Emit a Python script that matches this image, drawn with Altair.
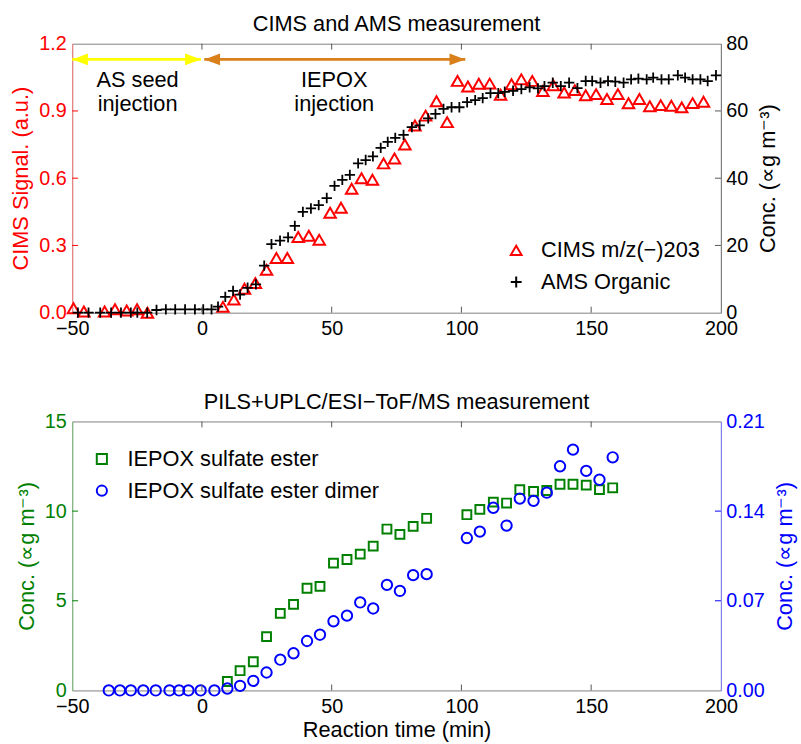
import altair as alt
import pandas as pd

FONT = "Liberation Sans"
W, H = 656, 272
RED = "#ff0000"
GREEN = "#008000"
BLUE = "#0000ff"
YEL = "#ffff00"
ORA = "#d9801a"
GREY = "#7f7f7f"

# ---------------- data ----------------
x_ticks = [-50, 0, 50, 100, 150, 200]

CIMS_LBL = "CIMS m/z(−)203"
AMS_LBL = "AMS Organic"
EST_LBL = "IEPOX sulfate ester"
DIM_LBL = "IEPOX sulfate ester dimer"
X_TITLE = "Reaction time (min)"

cims_t = [-49.5, -45.5, -37.5, -33.5, -29.0, -25.0, -21.0,
          8.1, 12.3, 16.4, 20.6, 24.9, 28.7, 32.9, 37.1, 41.2, 45.2,
          49.4, 53.6, 57.7, 61.5, 65.7, 70.0, 74.2, 78.2, 82.1, 86.2,
          90.4, 94.5, 98.5, 102.5, 106.7, 110.9, 115.1, 119.3, 123.1, 127.3,
          131.4, 135.4, 139.6, 143.7, 147.9, 151.9, 156.1, 160.3, 164.4, 168.6,
          172.6, 176.8, 180.9, 184.9, 189.1, 193.3]
cims_v = [0.02, 0.005, 0.005, 0.015, 0.01, 0.015, 0.0,
          0.026, 0.059, 0.107, 0.132, 0.191, 0.244, 0.244, 0.338, 0.343, 0.325,
          0.446, 0.468, 0.553, 0.600, 0.593, 0.666, 0.688, 0.750, 0.835, 0.879,
          0.943, 0.850, 1.034, 1.009, 1.021, 1.022, 0.972, 1.019, 1.041, 1.034,
          0.989, 1.015, 0.982, 0.993, 0.970, 0.975, 0.953, 0.975, 0.934, 0.953,
          0.921, 0.926, 0.923, 0.916, 0.935, 0.941]

ams_t = [-47.8, -43.7, -39.2, -35.0, -31.2, -27.4, -24.9, -21.1,
         -17.5, -13.9, -10.3, -6.5, -2.7, 0.5, 3.7, 6.2,
         9.0, 12.0, 14.7, 17.6, 20.8, 24.0, 26.8, 30.1, 33.2, 35.8,
         38.9, 42.0, 45.0, 48.1, 51.1, 54.1, 57.0, 60.2, 63.1, 65.9,
         68.9, 71.6, 74.5, 77.7, 80.9, 83.9, 87.2, 90.0, 93.1, 96.2,
         99.2, 102.2, 105.3, 108.2, 111.2, 114.2, 116.7, 119.9, 123.1, 126.3,
         129.5, 132.0, 135.2, 138.3, 141.5, 144.7, 147.9, 150.4, 153.6, 156.5,
         159.3, 162.5, 165.4, 168.2, 171.4, 173.9, 177.1, 179.9, 183.4, 186.2,
         189.1, 192.1, 194.9, 198.1]
ams_v = [0.0, 0.0, 0.0, 0.0, 0.0, 0.0, 0.0, 0.0,
         0.8, 1.0, 1.0, 1.0, 1.0, 1.0, 1.0, 1.8,
         4.7, 6.5, 5.4, 7.4, 8.4, 14.0, 20.4, 21.4, 22.4, 25.8,
         30.0, 31.0, 32.0, 34.1, 37.7, 39.5, 41.0, 44.4, 45.4, 46.5,
         49.0, 50.8, 52.0, 52.9, 55.2, 55.7, 57.8, 59.1, 60.6, 61.1,
         61.1, 62.6, 63.2, 63.8, 65.3, 65.3, 65.7, 66.0, 66.5, 67.0,
         66.7, 67.4, 68.4, 67.4, 68.4, 66.8, 68.9, 68.9, 68.4, 68.9,
         68.7, 68.4, 69.4, 69.6, 69.4, 69.9, 69.4, 69.4, 70.6, 69.9,
         69.4, 69.4, 68.9, 70.6]

ester_t = [9.8, 14.7, 19.8, 24.9, 30.2, 35.3, 40.5, 45.5, 50.7, 55.9,
           61.0, 66.0, 71.3, 76.3, 81.4, 86.6, 102.1, 107.1, 112.3, 117.4,
           122.5, 127.8, 132.9, 138.0, 143.0, 148.1, 153.2, 158.3]
ester_v = [0.5, 1.1, 1.6, 3.0, 4.3, 4.8, 5.7, 5.8, 7.1, 7.3,
           7.6, 8.05, 9.0, 8.7, 9.15, 9.6, 9.8, 10.1, 10.5, 10.45,
           11.2, 11.1, 11.15, 11.5, 11.5, 11.45, 11.2, 11.3]

dimer_t = [-35.9, -31.6, -27.4, -22.6, -17.8, -12.5, -8.8, -5.2, -0.5, 4.8,
           9.8, 14.7, 19.8, 24.9, 30.2, 35.3, 40.5, 45.5, 50.7, 55.9,
           61.0, 66.0, 71.3, 76.3, 81.4, 86.6, 102.1, 107.1, 112.3, 117.4,
           122.5, 127.8, 132.9, 138.0, 143.0, 148.1, 153.2, 158.3]
dimer_v = [0.0, 0.0, 0.0, 0.0, 0.0, 0.0, 0.0, 0.0, 0.0, 0.0,
           0.0015, 0.0036, 0.0075, 0.014, 0.024, 0.029, 0.0386, 0.0435, 0.054, 0.0584,
           0.0687, 0.064, 0.0824, 0.0777, 0.090, 0.0908, 0.119, 0.124, 0.1426, 0.1287,
           0.1498, 0.148, 0.1544, 0.175, 0.188, 0.1714, 0.1645, 0.182]

# annotation: injection periods (start, end in min)
phase_names = ["AS seed", "IEPOX"]
phase_start = [-50.0, 0.9]
phase_end = [-0.4, 101.5]
phase_line1 = ["AS seed", "IEPOX"]
phase_line2 = ["injection", "injection"]
phase_center = [-24.8, 51.0]

# ---------------- helpers ----------------
CROSS = "M-1,0L1,0M0,-1L0,1"
HEAD_L = "M0,0L2,-0.75L2,0.75Z"
HEAD_R = "M0,0L-2,-0.75L-2,0.75Z"

xscale = alt.Scale(domain=[-50, 200], nice=False, zero=False)


def xenc(field, title=None):
    return alt.X(field, type="quantitative", scale=xscale,
                 axis=alt.Axis(values=x_ticks, title=title, labelPadding=6,
                               domain=False, ticks=False, grid=False,
                               titlePadding=4, labelFlush=False))


def yhidden(field, domain):
    return alt.Y(field, type="quantitative",
                 scale=alt.Scale(domain=domain, nice=False, zero=False), axis=None)


def tick_layers(xtitle, yl_domain, yl_vals, yl_col, yr_domain, yr_vals, yr_col):
    xt = pd.DataFrame({"t": x_ticks[1:-1]})
    bot = alt.Chart(xt).mark_rule(color="#555555", strokeWidth=1).encode(
        x=xenc("t", xtitle), y=alt.value(H), y2=alt.value(H - 6))
    top = alt.Chart(xt).mark_rule(color="#555555", strokeWidth=1).encode(
        x=xenc("t", xtitle), y=alt.value(0), y2=alt.value(6))
    yl = alt.Chart(pd.DataFrame({"v": yl_vals})).mark_rule(color=yl_col, strokeWidth=1).encode(
        y=yhidden("v", yl_domain), x=alt.value(0), x2=alt.value(6))
    yr = alt.Chart(pd.DataFrame({"v": yr_vals})).mark_rule(color=yr_col, strokeWidth=1).encode(
        y=yhidden("v", yr_domain), x=alt.value(W - 6), x2=alt.value(W))
    return [bot, top, yl, yr]


# ---------------- top chart ----------------
cims_df = pd.DataFrame({"t": cims_t, "v": cims_v, "series": CIMS_LBL})
ams_df = pd.DataFrame({"t": ams_t, "v": ams_v, "series": AMS_LBL})

leg_top = alt.Legend(title=None, orient="none", legendX=438, legendY=198,
                     labelOffset=14, rowPadding=10, symbolSize=120,
                     symbolStrokeWidth=2, padding=0, labelFontSize=22,
                     labelFont=FONT, labelColor="#000000", labelLimit=0,
                     symbolOpacity=1)
col_top = alt.Color("series:N", scale=alt.Scale(domain=[CIMS_LBL, AMS_LBL],
                                                range=[RED, "#000000"]), legend=leg_top)
shp_top = alt.Shape("series:N", scale=alt.Scale(domain=[CIMS_LBL, AMS_LBL],
                                                range=["triangle-up", CROSS]), legend=leg_top)

cims = alt.Chart(cims_df).mark_point(filled=False, size=135, strokeWidth=2, opacity=1).encode(
    x=xenc("t"),
    y=alt.Y("v:Q", scale=alt.Scale(domain=[0, 1.2], nice=False),
            axis=alt.Axis(orient="left", values=[0, 0.3, 0.6, 0.9, 1.2], format=".1f",
                          title="CIMS Signal. (a.u.)", titleColor=RED, labelColor=RED,
                          domainColor="#ff8080", ticks=False, grid=False,
                          labelPadding=6, titlePadding=6)),
    color=col_top, shape=shp_top)

ams = alt.Chart(ams_df).mark_point(filled=False, size=110, strokeWidth=1.8, opacity=1).encode(
    x=xenc("t"),
    y=alt.Y("v:Q", scale=alt.Scale(domain=[0, 80], nice=False),
            axis=alt.Axis(orient="right", values=[0, 20, 40, 60, 80],
                          title="Conc. (∝g m⁻³)", titleColor="#000000", labelColor="#000000",
                          domainColor=GREY, ticks=False, grid=False,
                          labelPadding=5, titlePadding=10, titleAngle=270,
                          titleBaseline="top")),
    color=col_top, shape=shp_top)

phase_df = pd.DataFrame({"name": phase_names, "x0": phase_start, "x1": phase_end,
                         "y": [1.13, 1.13], "l1": phase_line1, "l2": phase_line2,
                         "xc": phase_center, "y1": [1.009, 1.009], "y2": [0.898, 0.898]})
arrow_layers = []
for i, c in enumerate([YEL, ORA]):
    d = phase_df.iloc[[i]]
    arrow_layers.append(alt.Chart(d).mark_rule(color=c, strokeWidth=2.8).encode(
        x=xenc("x0"), x2="x1:Q", y=yhidden("y", [0, 1.2])))
    arrow_layers.append(alt.Chart(d).mark_point(shape=HEAD_L, filled=True, size=256,
                                                color=c, opacity=1).encode(
        x=xenc("x0"), y=yhidden("y", [0, 1.2])))
    arrow_layers.append(alt.Chart(d).mark_point(shape=HEAD_R, filled=True, size=256,
                                                color=c, opacity=1).encode(
        x=xenc("x1"), y=yhidden("y", [0, 1.2])))

txt1 = alt.Chart(phase_df).mark_text(font=FONT, fontSize=22, align="center",
                                     baseline="alphabetic", color="#000000").encode(
    x=xenc("xc"), y=yhidden("y1", [0, 1.2]), text="l1:N")
txt2 = alt.Chart(phase_df).mark_text(font=FONT, fontSize=22, align="center",
                                     baseline="alphabetic", color="#000000").encode(
    x=xenc("xc"), y=yhidden("y2", [0, 1.2]), text="l2:N")

top_chart = alt.layer(
    *arrow_layers, txt1, txt2, cims, ams,
    *tick_layers(None, [0, 1.2], [0.3, 0.6, 0.9], RED, [0, 80], [20, 40, 60], "#555555")
).resolve_scale(y="independent").properties(
    width=W, height=H, title="CIMS and AMS measurement")

# ---------------- bottom chart ----------------
est_df = pd.DataFrame({"t": ester_t, "v": ester_v, "series": EST_LBL})
dim_df = pd.DataFrame({"t": dimer_t, "v": dimer_v, "series": DIM_LBL})

leg_bot = alt.Legend(title=None, orient="none", legendX=19, legendY=27,
                     labelOffset=15, rowPadding=10, symbolSize=105,
                     symbolStrokeWidth=2, padding=0, labelFontSize=22,
                     labelFont=FONT, labelColor="#000000", labelLimit=0,
                     symbolOpacity=1)
col_bot = alt.Color("series:N", scale=alt.Scale(domain=[EST_LBL, DIM_LBL],
                                                range=[GREEN, BLUE]), legend=leg_bot)
shp_bot = alt.Shape("series:N", scale=alt.Scale(domain=[EST_LBL, DIM_LBL],
                                                range=["square", "circle"]), legend=leg_bot)

est = alt.Chart(est_df).mark_point(filled=False, size=80, strokeWidth=2, opacity=1).encode(
    x=xenc("t", X_TITLE),
    y=alt.Y("v:Q", scale=alt.Scale(domain=[0, 15], nice=False),
            axis=alt.Axis(orient="left", values=[0, 5, 10, 15],
                          title="Conc. (∝g m⁻³)", titleColor=GREEN, labelColor=GREEN,
                          domainColor="#80c080", ticks=False, grid=False,
                          labelPadding=6, titlePadding=6)),
    color=col_bot, shape=shp_bot)

dim = alt.Chart(dim_df).mark_point(filled=False, size=110, strokeWidth=2, opacity=1).encode(
    x=xenc("t", X_TITLE),
    y=alt.Y("v:Q", scale=alt.Scale(domain=[0, 0.21], nice=False),
            axis=alt.Axis(orient="right", values=[0, 0.07, 0.14, 0.21], format=".2f",
                          title="Conc. (∝g m⁻³)", titleColor=BLUE, labelColor=BLUE,
                          domainColor="#8080ff", ticks=False, grid=False,
                          labelPadding=5, titlePadding=10, titleAngle=270,
                          titleBaseline="top")),
    color=col_bot, shape=shp_bot)

bot_chart = alt.layer(
    est, dim,
    *tick_layers(X_TITLE, [0, 15], [5, 10], GREEN, [0, 0.21], [0.07, 0.14], BLUE)
).resolve_scale(y="independent").properties(
    width=W, height=H, title="PILS+UPLC/ESI−ToF/MS measurement")

chart = alt.vconcat(top_chart, bot_chart, spacing=51).resolve_scale(
    color="independent", shape="independent"
).resolve_legend(color="independent", shape="independent").properties(
    padding={"left": 9, "top": 8, "right": 5, "bottom": 0}
).configure_axis(
    labelFont=FONT, titleFont=FONT, labelFontSize=20, titleFontSize=22,
    titleFontWeight="normal", labelColor="#000000", titleColor="#000000"
).configure_view(stroke=GREY, strokeWidth=1).configure_title(
    font=FONT, fontSize=22, fontWeight="normal", offset=-2, color="#000000"
).configure_legend(labelFont=FONT, labelFontSize=22)

chart.save("out.html", embed_options={"renderer": "svg", "actions": False})
